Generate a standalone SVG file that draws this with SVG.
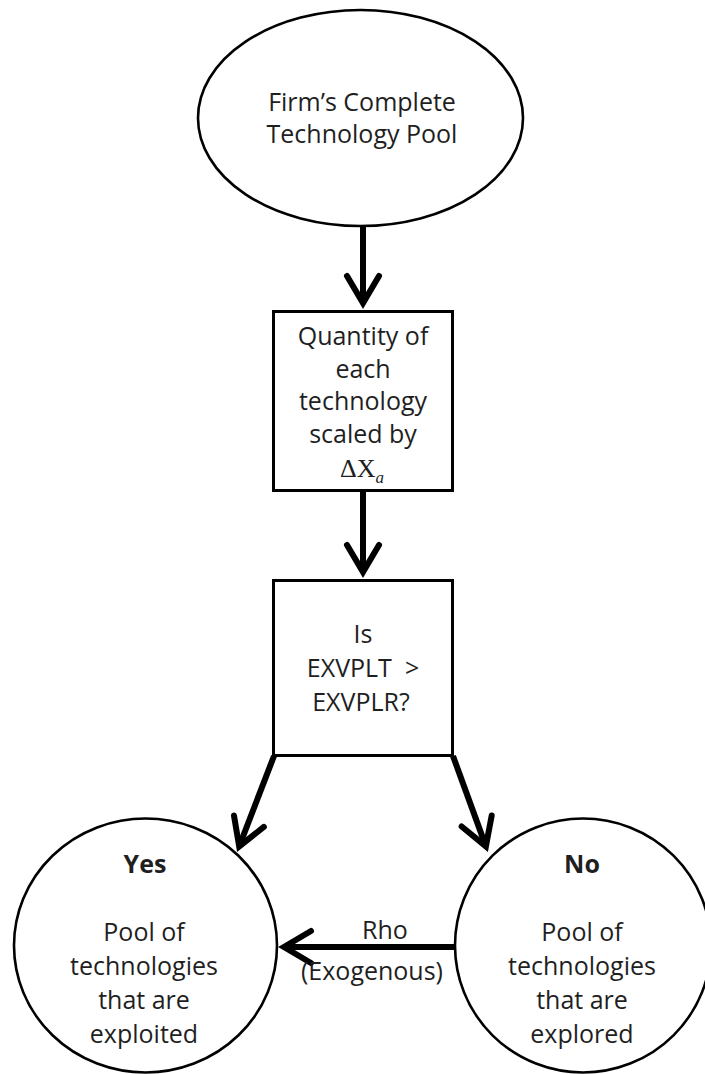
<svg xmlns="http://www.w3.org/2000/svg" width="705" height="1074" viewBox="0 0 705 1074">
  <defs>
    <marker id="ah" markerUnits="userSpaceOnUse" orient="auto" refX="0" refY="0" markerWidth="60" markerHeight="60" overflow="visible">
      <path d="M -27 -16 L 0 0 L -27 16" fill="none" stroke="#000" stroke-width="6" stroke-linejoin="miter" stroke-linecap="round"/>
    </marker>
    <style>
      .shape { fill: #fff; stroke: #000; stroke-width: 3; }
      .ell { fill: #fff; stroke: #000; stroke-width: 2.6; }
      .t { font-family: "Open Sans", "Noto Sans", sans-serif; font-size: 25px; fill: #1f1f1f; text-anchor: middle; }
      .b { font-weight: bold; }
      .m { font-family: "Liberation Serif", "DejaVu Serif", serif; font-size: 26px; fill: #1f1f1f; text-anchor: middle; }
      .conn { fill: none; stroke: #000; stroke-width: 6; marker-end: url(#ah); }
    </style>
  </defs>

  <g id="connectors">
    <path class="conn" d="M 363 227 L 363 303"/>
    <path class="conn" d="M 363 492 L 363 572"/>
    <path class="conn" d="M 274 756 L 239.2 846.4"/>
    <path class="conn" d="M 453 756 L 485.9 846.4"/>
    <path class="conn" d="M 455 947 L 284 947"/>
    <text class="t" x="385" y="939">Rho</text>
    <text class="t" x="372" y="980">(Exogenous)</text>
  </g>

  <g id="pool">
    <ellipse class="ell" cx="360.5" cy="118" rx="162.5" ry="108"/>
    <text class="t" x="362" y="111">Firm’s Complete</text>
    <text class="t" x="362" y="143">Technology Pool</text>
  </g>

  <g id="quantity">
    <rect class="shape" x="273.5" y="311.5" width="179" height="179"/>
    <text class="t" x="363" y="345">Quantity of</text>
    <text class="t" x="363" y="378">each</text>
    <text class="t" x="363" y="410">technology</text>
    <text class="t" x="363" y="443">scaled by</text>
    <text class="m" x="362" y="477">ΔX<tspan font-style="italic" font-size="17" dy="6">a</tspan></text>
  </g>

  <g id="decision">
    <rect class="shape" x="273.5" y="580.5" width="179" height="175"/>
    <text class="t" x="363" y="643">Is</text>
    <text class="t" x="363" y="677" xml:space="preserve">EXVPLT  &gt;</text>
    <text class="t" x="361" y="711">EXVPLR?</text>
  </g>

  <g id="yes">
    <ellipse class="ell" cx="145.5" cy="945.5" rx="131.5" ry="127"/>
    <text class="t b" x="145" y="873">Yes</text>
    <text class="t" x="144" y="941">Pool of</text>
    <text class="t" x="144" y="975">technologies</text>
    <text class="t" x="144" y="1009">that are</text>
    <text class="t" x="144" y="1043">exploited</text>
  </g>

  <g id="no">
    <ellipse class="ell" cx="583" cy="945.5" rx="128" ry="127"/>
    <text class="t b" x="582" y="873">No</text>
    <text class="t" x="582" y="941">Pool of</text>
    <text class="t" x="582" y="975">technologies</text>
    <text class="t" x="582" y="1009">that are</text>
    <text class="t" x="582" y="1043">explored</text>
  </g>
</svg>
